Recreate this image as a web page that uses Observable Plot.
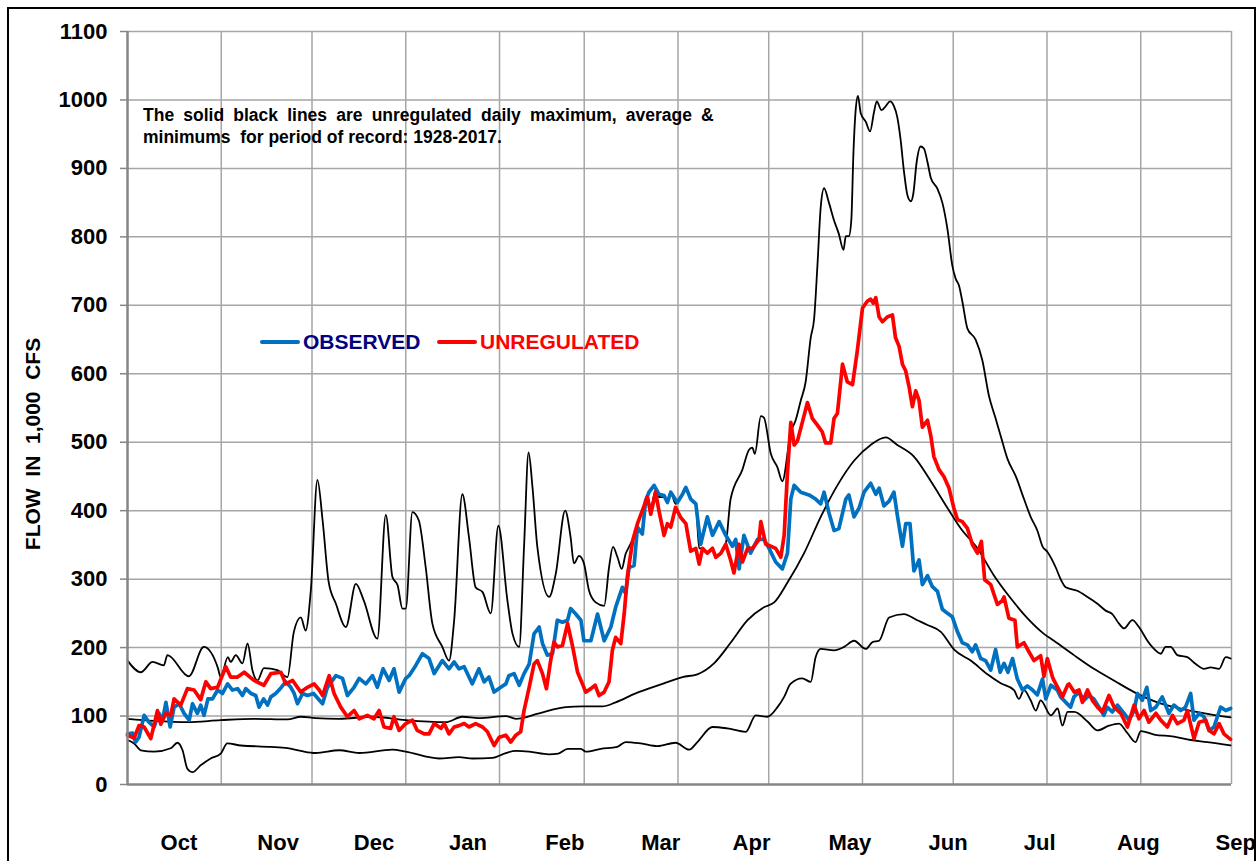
<!DOCTYPE html>
<html>
<head>
<meta charset="utf-8">
<script src="https://cdn.jsdelivr.net/npm/d3@7"></script>
<script src="https://cdn.jsdelivr.net/npm/@observablehq/plot@0.6"></script>
<style>
  html, body { margin: 0; padding: 0; background: #fff; }
  #wrap { position: relative; width: 1259px; height: 861px; overflow: hidden;
          font-family: "Liberation Sans", Arial, sans-serif; }
  #chart { position: absolute; left: 0; top: 0; }
  #border { position: absolute; left: 7px; top: 7px; width: 1249px; height: 900px;
            border: 2px solid #000; box-sizing: border-box; pointer-events: none; }
  .ov { position: absolute; white-space: pre; font-weight: bold; }
  #ytitle { left: 32px; top: 444px; font-size: 21px; line-height: 21px;
            transform: translate(-50%, -50%) rotate(-90deg); color: #000; }
  .note { left: 143px; font-size: 17.5px; line-height: 22px; color: #000; }
  .sw { position: absolute; height: 4px; border-radius: 2px; }
  .lg { font-size: 21px; line-height: 21px; }
</style>
</head>
<body>
<div id="wrap">
  <div id="chart"></div>
  <div id="ytitle" class="ov"></div>
  <div id="note1" class="ov note" style="top:104px; word-spacing:4.3px;"></div>
  <div id="note2" class="ov note" style="top:126px;"></div>
  <div class="sw" style="left:260px; top:339.5px; width:40px; background:#0070c0;"></div>
  <div id="lg1" class="ov lg" style="left:303px; top:330.5px; color:#000080;"></div>
  <div class="sw" style="left:437px; top:339.5px; width:40px; background:#ff0000;"></div>
  <div id="lg2" class="ov lg" style="left:480px; top:330.5px; color:#ff0000;"></div>
  <div id="border"></div>
</div>
<script>
// ---------- DATA (day of water year, flow in 1,000 cfs) ----------
const monthNames = ["Oct","Nov","Dec","Jan","Feb","Mar","Apr","May","Jun","Jul","Aug","Sep"];
const monthLabelDay = [17, 49.8, 81.5, 112.6, 144.6, 176.3, 206.3, 238.8, 271.3, 301.6, 334.2, 366.4];
const monthStartDay = [0, 31, 61, 92, 123, 151, 182, 212, 243, 273, 304, 335, 365];
const yTicks = [0, 100, 200, 300, 400, 500, 600, 700, 800, 900, 1000, 1100];

const yTitle = "FLOW  IN  1,000  CFS";
const noteLine1 = "The solid black lines are unregulated daily maximum, average &";
const noteLine2 = "minimums  for period of record: 1928-2017.";
const seriesNames = ["OBSERVED", "UNREGULATED"];

const maxFlow = [[0,181],[4.4,164],[8.3,179],[12,174],[13.2,189],[20.3,158],[25.2,201],[29.9,170],[30.8,157],[33.2,186],[34.1,179],[35.8,189],[38,177],[39.7,206],[41.3,167],[43,152],[45.1,170],[49.6,167],[52.9,157],[55,223],[57.3,244],[58.9,225],[60.6,283],[62.8,445],[64.5,386],[66.5,296],[68.9,264],[72.2,230],[75.5,293],[78.1,269],[82.6,213],[85.4,394],[87.6,303],[89.3,291],[90.9,257],[92,257],[94.2,398],[96.3,386],[98.6,317],[100.8,235],[104.1,201],[106.3,181],[108,240],[110.7,424],[112.9,361],[115.1,288],[117.4,281],[120.1,250],[122.6,378],[125.6,269],[127.3,220],[129.5,201],[131.1,347],[132.6,485],[133.9,434],[135.5,347],[139.4,274],[141.6,308],[144.7,400],[146.5,361],[147.6,323],[149.3,334],[150.9,323],[152.6,283],[154.8,266],[157.6,261],[159.2,317],[160.5,347],[162,332],[163.4,315],[164.7,337],[165.8,347],[167,358],[168.6,381],[170.2,400],[171.9,420],[173,405],[174.6,430],[175.7,420],[177.4,420],[178.5,412],[179.6,427],[181.2,410],[182.9,420],[184.6,434],[186.2,418],[187.9,410],[189,345],[190.1,345],[191.7,338],[193.4,345],[194.5,332],[196.2,338],[197.8,351],[199.4,417],[203.3,460],[205.5,489],[206.6,492],[207.4,483],[209.4,538],[210.4,536],[212.7,483],[214.9,463],[216.5,443],[219.3,515],[220.9,532],[222.6,561],[224.2,588],[225.9,653],[227,680],[228.1,758],[229.2,844],[230.3,871],[231.9,850],[233.6,824],[235.2,804],[236.7,781],[237.5,801],[238.5,801],[239.3,824],[240,922],[240.8,988],[241.5,1006],[242.4,981],[244.1,968],[245.5,954],[246.8,982],[247.7,998],[249.3,985],[250.7,991],[252.1,998],[253.4,991],[254.5,975],[255.6,942],[256.7,896],[257.9,860],[259,852],[259.8,863],[260.9,909],[262.2,932],[263.3,929],[264.5,909],[265.6,886],[267.8,870],[269.4,850],[271.1,811],[272.7,758],[273.8,739],[274.9,729],[276,706],[277.7,666],[280.4,650],[282.6,620],[284.8,568],[287,535],[288.7,509],[290.9,476],[293.7,450],[296.4,417],[298.6,391],[300.8,371],[302.5,348],[304.1,340],[306.9,317],[308.5,300],[310.2,288],[314,283],[317.4,274],[320.7,264],[323.4,254],[325.6,249],[327.8,235],[329.5,228],[332.2,240],[334.4,230],[337.2,210],[339.4,198],[341.6,191],[343.2,201],[344.9,201],[347.1,189],[350.4,186],[353.2,176],[355.9,169],[358.1,171],[360.9,169],[363.1,186],[364.7,184]];

const avgFlow = [[0,96],[8.7,93],[19.8,91],[30.8,94],[41.8,96],[52.9,95],[57.3,99],[62.2,97],[69.9,96],[81,99],[92,94],[105.2,91],[110.7,99],[116.1,97],[125.1,100],[128.4,96],[136.1,104],[144.9,113],[150.4,114],[157,114],[161.4,120],[168,133],[176.9,147],[183.5,157],[188.4,161],[193.9,177],[199.4,207],[205,240],[210.4,259],[213.8,266],[218.2,295],[223.7,338],[229.2,391],[234.7,437],[240.2,473],[245.7,496],[250.7,507],[254.5,496],[260,479],[265.6,443],[271.1,404],[275.5,374],[281,345],[286.5,305],[292,272],[297.5,243],[303,220],[306.3,210],[312.9,189],[319.5,169],[326.1,152],[332.8,135],[340.5,120],[348.2,111],[354.8,105],[364.7,98]];

const minFlow = [[0,65],[2.2,60],[4.4,50],[8.8,48],[14.3,53],[16.5,61],[18.2,50],[19.8,23],[21.5,18],[24.2,28],[27.5,38],[30.8,45],[33,60],[37.5,57],[47.4,55],[52.9,53],[57.3,49],[62.2,46],[70,50],[76.6,46],[87.6,51],[92,48],[103,38],[109.6,40],[114.1,38],[120.7,39],[125.1,46],[128.4,49],[132.8,48],[139.3,44],[142.4,45],[145.5,52],[149.9,52],[151.5,48],[156.5,52],[161.9,55],[164.7,62],[169.7,60],[175.2,56],[181.2,61],[185.7,51],[188.4,62],[193.4,84],[198.3,82],[204.4,77],[207.7,101],[211.6,99],[214.9,113],[217.1,128],[219.2,147],[223.1,155],[225.9,150],[227.5,186],[229.2,198],[233.6,196],[236.9,201],[240.2,210],[244.1,198],[246.3,208],[248.5,210],[251.8,244],[256.7,249],[261.1,240],[264.5,233],[268.9,223],[273.3,197],[278.8,181],[284.3,161],[288.7,148],[293.1,138],[294.7,125],[296.4,138],[298.6,123],[300.3,108],[301.9,123],[305.3,101],[307.5,111],[309.1,86],[310.8,106],[313,106],[317.4,92],[320.7,79],[324.5,86],[327.8,89],[330.6,75],[333.3,62],[335,78],[339.4,73],[346,70],[351.5,65],[357,62],[364.7,57]];

const observed = [[0,74],[1.7,75],[2.7,62],[3.8,69],[5.5,101],[7.1,91],[8.8,84],[10.4,104],[11.6,94],[12.7,120],[14.1,84],[15.4,113],[17.1,118],[18.7,104],[20.4,94],[21.5,118],[23.1,104],[24.2,116],[25.3,101],[26.6,125],[28.1,125],[29.8,138],[31.4,133],[33.1,147],[34.7,138],[36.4,140],[38,130],[39.1,140],[40.8,133],[42.4,130],[43.5,113],[45,125],[46.3,116],[47.4,128],[49,133],[50.7,141],[52.3,150],[54,142],[55.1,133],[56.2,118],[57.9,133],[59.5,130],[61.5,133],[64.5,118],[66.1,142],[68.9,159],[71.1,155],[72.7,130],[74.9,142],[76.6,155],[78.8,147],[81,159],[82.6,142],[84.5,169],[86.5,152],[88.1,169],[89.8,135],[92,155],[93.1,159],[95.3,174],[97.5,191],[99.7,184],[101.4,162],[104.1,181],[106.3,169],[108,179],[109.6,169],[111.3,172],[114,147],[116.2,169],[117.9,150],[119.5,157],[121.2,135],[123.4,142],[125.1,147],[126.1,159],[127.8,162],[129.5,145],[131.1,162],[132.8,176],[134.4,220],[136.1,230],[137.2,206],[138.8,189],[140.5,191],[142.1,240],[143.8,237],[145.5,240],[146.5,257],[148.2,249],[149.9,240],[150.9,210],[153.2,210],[155.4,249],[157.6,210],[159.8,230],[161.4,259],[163.6,288],[164.7,279],[165.8,317],[167.5,320],[168.6,376],[170.2,366],[171.3,415],[172.4,427],[174.1,437],[175.7,424],[177.4,422],[178.5,412],[179.6,427],[181.8,412],[183.5,424],[184.6,434],[186.2,417],[187.9,410],[189.5,351],[191.7,391],[193.4,364],[195.6,384],[197.8,364],[200,348],[201.1,358],[202.2,315],[203.8,364],[206,338],[208.3,358],[210.4,358],[212.1,345],[214.3,325],[216.5,315],[218.2,338],[219.3,417],[220.4,437],[222.6,427],[225.3,423],[227.5,417],[229.2,410],[230.3,427],[231.9,397],[233.6,371],[235.2,374],[237.5,417],[238.5,423],[240.2,391],[241.9,404],[243.5,427],[245.7,440],[247.4,424],[248.5,433],[250.1,407],[251.8,414],[253.4,427],[254.5,394],[256.2,348],[257.3,381],[258.7,381],[260,312],[261.7,328],[262.8,292],[264.5,305],[266.1,289],[267.8,282],[269.4,256],[271.1,250],[272.7,245],[274.4,223],[276,207],[277.7,204],[279.3,194],[280.4,204],[282.1,184],[283.7,181],[285.4,167],[287,197],[288.5,164],[289.8,177],[291.1,164],[292.6,184],[294.2,154],[295.9,138],[297.5,144],[299.2,138],[300.8,131],[302.5,154],[303.6,125],[305.3,145],[307.4,138],[308.5,128],[310.2,120],[311.8,113],[312.9,128],[314.6,135],[316.2,123],[317.9,130],[319.5,125],[321.2,113],[322.8,101],[323.9,113],[325.6,106],[327.3,116],[329.5,104],[331.1,94],[332.8,108],[333.9,133],[335.5,123],[337,142],[338.3,108],[340,113],[342.1,128],[344.3,104],[346,116],[348.2,108],[349.8,113],[351.5,133],[352.6,94],[354.3,104],[355.9,99],[357.6,79],[359.2,84],[361.4,113],[363.1,108],[364.7,111]];

const unregulated = [[0,72],[2.2,68],[3.8,86],[5.5,84],[7.7,67],[9.9,108],[11,88],[12.7,104],[14.3,101],[15.4,125],[17.6,116],[19.8,140],[22,138],[24.2,124],[25.9,150],[27.5,140],[29.8,142],[32.5,172],[34.1,157],[36.4,157],[38.6,164],[41.8,152],[45.1,145],[47.4,162],[50.7,164],[52.3,147],[54.6,152],[57.3,135],[59.5,142],[61.7,147],[63.4,138],[64.5,130],[66.7,159],[68.3,133],[70.5,113],[72.7,99],[74.9,108],[76.6,96],[79.3,101],[81.5,96],[83.2,108],[84.8,84],[87,82],[88.1,99],[89.8,79],[92,89],[94.2,94],[95.8,79],[98.1,74],[99.7,74],[101.4,89],[103.6,82],[104.7,89],[106.3,74],[108,84],[109.6,86],[111.3,89],[112.9,84],[115.1,89],[117.4,84],[119,77],[121.2,57],[122.9,69],[125.1,72],[126.7,62],[128.4,72],[130,77],[131.1,108],[132.8,142],[134.4,176],[135.5,181],[137.2,162],[138.5,140],[139.9,181],[141,208],[142.1,201],[143.8,203],[145.5,235],[147.1,203],[148.8,164],[150.4,147],[151.5,135],[153.2,140],[154.6,145],[155.9,130],[157.6,135],[159.2,150],[160.3,196],[161.4,215],[163.1,206],[164.2,249],[165.3,305],[167,356],[168.6,381],[170.2,400],[171.9,420],[173,395],[174.6,427],[175.7,400],[177.4,364],[178.5,381],[179.6,376],[181.2,405],[182.9,390],[184.6,381],[186.2,341],[187.9,345],[189,322],[190.1,345],[191.7,338],[193.4,345],[194.5,332],[196.2,338],[197.8,351],[199.4,328],[200.5,309],[202.2,351],[203.3,325],[205,345],[206.6,345],[208.8,358],[209.4,384],[211,351],[212.7,348],[214.3,345],[216,332],[217.1,364],[218.2,456],[219.3,529],[220.4,496],[221.5,502],[223.1,529],[224.8,558],[226.4,535],[228.1,525],[229.7,515],[230.8,499],[232.5,499],[233.6,535],[234.7,542],[236.4,614],[238,588],[239.7,584],[241.3,634],[243,696],[244.6,706],[245.7,709],[246.6,703],[247.4,711],[248.5,683],[249.6,676],[251.2,683],[252.9,686],[253.9,653],[255.1,640],[256.2,614],[257.3,604],[258.4,581],[259.5,552],[260.6,575],[261.7,561],[262.8,522],[264.5,532],[265.6,509],[266.6,479],[268.3,460],[269.9,450],[271.6,433],[273.2,404],[274.4,387],[276,384],[277.7,374],[279.3,351],[281,338],[282.3,355],[283.4,299],[285.4,292],[287.6,263],[289.3,269],[289.8,274],[291.4,243],[293.4,240],[294.2,201],[296.4,207],[297.5,198],[299.7,181],[301.9,188],[303,158],[304.1,184],[305.8,157],[306.3,152],[308,138],[309.1,128],[310.8,145],[311.3,147],[313,135],[314.6,138],[315.7,120],[317.4,138],[319,123],[320.7,113],[322.3,106],[324.5,130],[326.2,113],[328.4,104],[330.6,84],[332.8,116],[334.4,96],[336.1,108],[337.7,91],[340,104],[341.6,94],[343.8,84],[345.5,101],[347.1,89],[349.3,94],[350.4,108],[352.6,67],[354.3,91],[356.5,94],[357.6,79],[359.2,74],[360.9,89],[362.5,74],[364.7,66]];

// ---------- TEXT OVERLAYS ----------
document.getElementById("ytitle").textContent = yTitle;
document.getElementById("note1").textContent = noteLine1;
document.getElementById("note2").textContent = noteLine2;
document.getElementById("lg1").textContent = seriesNames[0];
document.getElementById("lg2").textContent = seriesNames[1];

// ---------- CHART ----------
const X = d => d[0], Y = d => d[1];
const labelOf = new Map(monthLabelDay.map((d, i) => [d, monthNames[i]]));
const gridColor = "#a6a6a6";
const axisColor = "#868686";

const chart = Plot.plot({
  width: 1259,
  height: 861,
  marginLeft: 127,
  marginRight: 28,
  marginTop: 31,
  marginBottom: 77,
  x: { domain: [0, 365], axis: null },
  y: { domain: [0, 1100], axis: null },
  style: { fontFamily: "'Liberation Sans', Arial, sans-serif", background: "transparent", overflow: "visible" },
  marks: [
    Plot.ruleX(monthStartDay.slice(1), { stroke: gridColor, strokeWidth: 1.5 }),
    Plot.ruleY(yTicks.slice(1), { stroke: gridColor, strokeWidth: 1.5 }),
    Plot.axisY({ ticks: yTicks, tickSize: 7, tickPadding: 13, fontSize: 22, fontWeight: "bold",
                 stroke: axisColor, strokeWidth: 1.5, fill: "black", label: null, tickFormat: d => String(d) }),
    Plot.axisX({ ticks: monthLabelDay, tickSize: 0, tickPadding: 50, fontSize: 22, fontWeight: "bold",
                 fill: "black", label: null, tickFormat: d => labelOf.get(d) }),
    Plot.line(maxFlow, { x: X, y: Y, stroke: "black", strokeWidth: 1.8, curve: "monotone-x" }),
    Plot.line(avgFlow, { x: X, y: Y, stroke: "black", strokeWidth: 1.8, curve: "monotone-x" }),
    Plot.line(minFlow, { x: X, y: Y, stroke: "black", strokeWidth: 1.8, curve: "monotone-x" }),
    Plot.line(observed, { x: X, y: Y, stroke: "#0070c0", strokeWidth: 3.7, strokeLinejoin: "round" }),
    Plot.line(unregulated, { x: X, y: Y, stroke: "#ff0000", strokeWidth: 3.7, strokeLinejoin: "round" }),
    Plot.ruleX([0], { stroke: axisColor, strokeWidth: 2.5 }),
    Plot.ruleY([0], { stroke: axisColor, strokeWidth: 2.5 })
  ]
});
document.getElementById("chart").appendChild(chart);
</script>
</body>
</html>
